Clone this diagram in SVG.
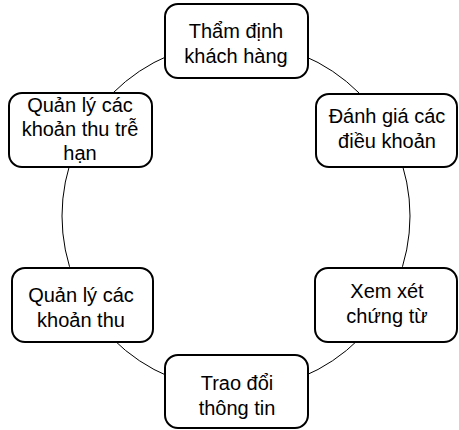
<svg xmlns="http://www.w3.org/2000/svg" width="459" height="430" viewBox="0 0 459 430">
<style>
.box{fill:#fff;stroke:#000;stroke-width:2}
.t{font-family:"Liberation Sans",Arial,sans-serif;font-size:20px;fill:#000;text-anchor:middle}
.c{fill:none;stroke:#000;stroke-width:1}
</style>
<rect width="459" height="430" fill="#fff"/>
<g id="connectors">
<circle class="c" cx="236" cy="216" r="174"/>
</g>
<g id="n1">
<rect class="box" x="165" y="4" width="143" height="74" rx="13"/>
<text class="t" x="236" y="38">Thẩm định</text>
<text class="t" x="236" y="63">khách hàng</text>
</g>
<g id="n2">
<rect class="box" x="316" y="94" width="141" height="73" rx="13"/>
<text class="t" x="387" y="123">Đánh giá các</text>
<text class="t" x="387" y="148">điều khoản</text>
</g>
<g id="n3">
<rect class="box" x="315" y="268" width="142" height="74" rx="13"/>
<text class="t" x="387" y="298">Xem xét</text>
<text class="t" x="387" y="323">chứng từ</text>
</g>
<g id="n4">
<rect class="box" x="165" y="355" width="143" height="73" rx="13"/>
<text class="t" x="237" y="390">Trao đổi</text>
<text class="t" x="237" y="415">thông tin</text>
</g>
<g id="n5">
<rect class="box" x="12" y="268" width="141" height="74" rx="13"/>
<text class="t" x="81" y="302">Quản lý các</text>
<text class="t" x="81" y="327">khoản thu</text>
</g>
<g id="n6">
<rect class="box" x="9" y="93" width="143" height="74" rx="13"/>
<text class="t" x="80" y="112">Quản lý các</text>
<text class="t" x="80" y="136">khoản thu trễ</text>
<text class="t" x="80" y="160">hạn</text>
</g>
</svg>
